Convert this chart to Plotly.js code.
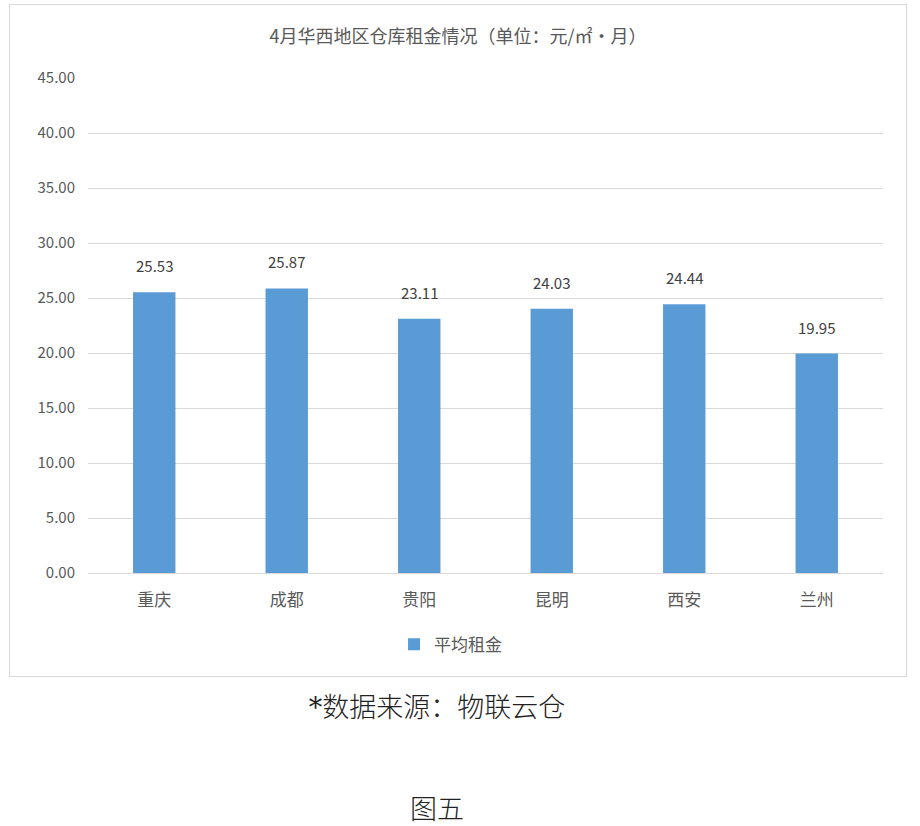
<!DOCTYPE html>
<html>
<head>
<meta charset="utf-8">
<script src="https://cdn.plot.ly/plotly-3.0.1.min.js"></script>
<style>
  body { margin: 0; background: #fff; }
  #page { position: relative; width: 920px; height: 826px; }
  #plot { position: absolute; left: 9px; top: 4px; width: 896px; height: 671px; border: 1px solid #d9d9d9; }
  .note { position: absolute; left: 0; width: 874px; text-align: center; color: #222;
          font-family: "DejaVu Serif", "Noto Sans CJK SC", serif; font-size: 27px; font-weight: 300; }
</style>
</head>
<body>
<div id="page">
  <div id="plot"></div>
  <div class="note" style="top:686px;">*数据来源：物联云仓</div>
  <div class="note" style="top:788px;">图五</div>
</div>
<script>
// 4月华西地区仓库租金
var cities = ['重庆', '成都', '贵阳', '昆明', '西安', '兰州'];
var avgRent = [25.53, 25.87, 23.11, 24.03, 24.44, 19.95];
var yTicks = [0, 5, 10, 15, 20, 25, 30, 35, 40, 45];

var font = '"Noto Sans CJK SC", "Microsoft YaHei", sans-serif';

var data = [{
  type: 'bar',
  name: '平均租金',
  x: cities,
  y: avgRent,
  marker: { color: '#5b9bd5' },
  hoverinfo: 'none'
}];

// value labels sit a little higher above the bars than plotly's 'outside' text
var labels = cities.map(function (c, i) {
  return {
    x: c, y: avgRent[i], xref: 'x', yref: 'y',
    text: avgRent[i].toFixed(2), showarrow: false,
    yanchor: 'bottom', yshift: 14,
    font: { size: 15, color: '#404040', family: font }
  };
});

var layout = {
  width: 896,
  height: 671,
  margin: { l: 78, r: 23, t: 73, b: 103 },
  paper_bgcolor: '#fff',
  plot_bgcolor: '#fff',
  font: { family: font, color: '#595959' },
  title: {
    text: '4月华西地区仓库租金情况（单位：元/㎡·月）',
    font: { size: 18, color: '#595959', family: font },
    x: 0.5, xanchor: 'center', y: 0.953, yanchor: 'middle'
  },
  bargap: 0.68,
  xaxis: {
    tickfont: { size: 17, color: '#595959', family: font },
    showline: true, linecolor: '#d9d9d9', linewidth: 1,
    ticks: 'outside', ticklen: 12, tickcolor: 'rgba(0,0,0,0)', fixedrange: true
  },
  yaxis: {
    range: [0, 45],
    tickvals: yTicks,
    ticktext: yTicks.map(function (v) { return v.toFixed(2); }),
    tickfont: { size: 15, color: '#595959', family: font },
    gridcolor: '#d9d9d9',
    zeroline: false,
    ticks: 'outside', ticklen: 9, tickcolor: 'rgba(0,0,0,0)',
    fixedrange: true
  },
  annotations: labels,
  showlegend: true,
  legend: {
    orientation: 'h', x: 0.456, xanchor: 'center', y: -0.145, yanchor: 'middle',
    font: { size: 17, color: '#595959', family: font }
  }
};

Plotly.newPlot('plot', data, layout, { displayModeBar: false, staticPlot: true });
</script>
</body>
</html>
